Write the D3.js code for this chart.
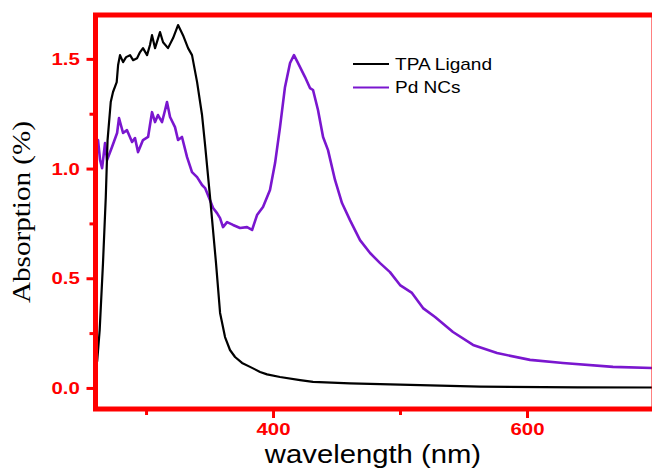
<!DOCTYPE html>
<html>
<head>
<meta charset="utf-8">
<script src="https://cdn.jsdelivr.net/npm/d3@7"></script>
<style>
  body { margin: 0; background: #fff; }
  svg { display: block; }
</style>
</head>
<body>
<div id="chart"></div>
<script>
// wavelength (nm) / absorption
const tpaWave = [261.5, 263.5, 266.1, 268.3, 269.7, 272.2, 274.0, 276.9, 278.0, 279.5, 281.9, 284.3, 287.4,
  289.8, 292.9, 295.3, 297.6, 300.8, 303.1, 304.7, 307.1, 311.0, 313.4, 317.3, 321.3, 325.2, 329.1, 333.1,
  336.2, 340.2, 344.1, 346.5, 350.4, 355.1, 358.3, 362.2, 366.1, 370.1, 375.6, 381.9, 389.8, 395.3, 405.5,
  421.3, 431.5, 460.6, 484.3, 563.0, 640.0, 699.0];
const tpaAbs = [0.12, 0.264, 0.569, 0.870, 1.130, 1.303, 1.349, 1.394, 1.472, 1.517, 1.485, 1.508, 1.517,
  1.494, 1.503, 1.531, 1.549, 1.517, 1.563, 1.608, 1.549, 1.622, 1.576, 1.549, 1.595, 1.654, 1.608, 1.549,
  1.517, 1.394, 1.244, 1.107, 0.870, 0.569, 0.342, 0.232, 0.173, 0.141, 0.114, 0.096, 0.073, 0.062, 0.050,
  0.036, 0.028, 0.021, 0.017, 0.006, 0.003, 0.002];

const pdWave = [260.6, 262.2, 263.8, 265.4, 267.7, 269.3, 273.2, 277.2, 278.7, 281.9, 285.0, 289.0, 291.3,
  293.7, 297.6, 301.6, 304.7, 307.1, 309.4, 312.6, 315.0, 316.5, 318.9, 322.8, 325.2, 328.3, 332.3, 336.2,
  340.2, 344.1, 346.5, 350.4, 352.8, 355.9, 358.3, 360.6, 363.8, 368.5, 374.0, 379.5, 383.5, 387.4, 392.1,
  397.6, 401.6, 405.5, 409.4, 413.4, 416.5, 419.7, 425.2, 429.1, 431.5, 435.4, 439.4, 443.3, 448.8, 454.3,
  460.6, 468.5, 476.4, 484.3, 492.1, 500.0, 509.4, 518.1, 527.6, 541.7, 557.5, 576.4, 602.4, 628.3, 667.7,
  699.0];
const pdAbs = [1.084, 1.130, 1.039, 1.002, 1.116, 1.039, 1.098, 1.162, 1.230, 1.162, 1.175, 1.121, 1.139,
  1.075, 1.130, 1.144, 1.257, 1.212, 1.244, 1.212, 1.267, 1.303, 1.235, 1.189, 1.130, 1.144, 1.052, 0.984,
  0.961, 0.925, 0.911, 0.856, 0.820, 0.797, 0.774, 0.733, 0.756, 0.743, 0.729, 0.733, 0.720, 0.788, 0.825,
  0.902, 1.025, 1.189, 1.371, 1.481, 1.517, 1.481, 1.417, 1.367, 1.358, 1.267, 1.144, 1.084, 0.948, 0.843,
  0.765, 0.674, 0.615, 0.569, 0.528, 0.469, 0.433, 0.364, 0.323, 0.255, 0.196, 0.159, 0.128, 0.114, 0.096,
  0.091];

const seriesNames = ['TPA Ligand', 'Pd NCs'];
const seriesColors = ['#000000', '#7a16cf'];

const yMajor = [0, 0.5, 1.0, 1.5];
const yMinor = [0.25, 0.75, 1.25];
const xMajor = [400, 600];
const xMinor = [300, 500];

const width = 652, height = 470;
const red = '#ff0000';

const svg = d3.select('#chart').append('svg')
  .attr('width', width)
  .attr('height', height);

const x = d3.scaleLinear().domain([260.2, 700]).range([95.5, 654]);
const y = d3.scaleLinear().domain([-0.096, 1.7]).range([409, 15]);

// stretch text a bit wider, like the original picture
function widen(sel, k) {
  sel.each(function () {
    const w = this.getComputedTextLength();
    d3.select(this).attr('textLength', w * k).attr('lengthAdjust', 'spacingAndGlyphs');
  });
}

// minor ticks
svg.append('g')
  .attr('transform', 'translate(' + x.range()[0] + ',0)')
  .call(d3.axisLeft(y).tickValues(yMinor).tickSize(6).tickFormat(''))
  .call(g => g.select('.domain').remove());
svg.append('g')
  .attr('transform', 'translate(0,' + y.range()[0] + ')')
  .call(d3.axisBottom(x).tickValues(xMinor).tickSize(6).tickFormat(''))
  .call(g => g.select('.domain').remove());

// major ticks with labels
const yAxis = svg.append('g')
  .attr('transform', 'translate(' + x.range()[0] + ',0)')
  .call(d3.axisLeft(y).tickValues(yMajor).tickSize(9).tickPadding(5).tickFormat(d3.format('.1f')));
yAxis.select('.domain').remove();

const xAxis = svg.append('g')
  .attr('transform', 'translate(0,' + y.range()[0] + ')')
  .call(d3.axisBottom(x).tickValues(xMajor).tickSize(9).tickPadding(5).tickFormat(d3.format('d')));
xAxis.select('.domain').remove();

svg.selectAll('.tick line').attr('stroke', red).attr('stroke-width', 3);
svg.selectAll('.tick text')
  .attr('fill', red)
  .style('font-family', 'Liberation Sans, Arial, sans-serif')
  .style('font-size', '17px')
  .style('font-weight', 'bold');
yAxis.selectAll('.tick text').attr('dx', '-0.1em');
widen(svg.selectAll('.tick text'), 1.2);

// curves
const line = d3.line().x(d => x(d[0])).y(d => y(d[1]));
const tpa = tpaWave.map((w, i) => [w, tpaAbs[i]]);
const pd = pdWave.map((w, i) => [w, pdAbs[i]]);

svg.append('path')
  .datum(pd)
  .attr('fill', 'none')
  .attr('stroke', seriesColors[1])
  .attr('stroke-width', 2.6)
  .attr('stroke-linejoin', 'round')
  .attr('d', line);

svg.append('path')
  .datum(tpa)
  .attr('fill', 'none')
  .attr('stroke', seriesColors[0])
  .attr('stroke-width', 2.2)
  .attr('stroke-linejoin', 'round')
  .attr('d', line);

// red frame
svg.append('rect')
  .attr('x', x.range()[0])
  .attr('y', y.range()[1])
  .attr('width', x.range()[1] - x.range()[0])
  .attr('height', y.range()[0] - y.range()[1])
  .attr('fill', 'none')
  .attr('stroke', red)
  .attr('stroke-width', 5);

// legend
const legend = svg.append('g').attr('transform', 'translate(353,64)');
seriesNames.forEach((name, i) => {
  const row = legend.append('g').attr('transform', 'translate(0,' + i * 23.5 + ')');
  row.append('line')
    .attr('x1', 0).attr('x2', 36)
    .attr('stroke', seriesColors[i])
    .attr('stroke-width', 2.2);
  row.append('text')
    .attr('x', 42)
    .attr('dy', '0.35em')
    .style('font-family', 'Liberation Sans, Arial, sans-serif')
    .style('font-size', '17px')
    .text(name);
});
widen(legend.selectAll('text'), 1.12);

// axis titles
svg.append('text')
  .attr('x', 373)
  .attr('y', 463)
  .attr('text-anchor', 'middle')
  .style('font-family', 'Liberation Sans, Arial, sans-serif')
  .style('font-size', '25px')
  .text('wavelength (nm)')
  .call(widen, 1.17);

svg.append('text')
  .attr('transform', 'translate(30,212) rotate(-90)')
  .attr('text-anchor', 'middle')
  .style('font-family', 'Liberation Serif, Times New Roman, serif')
  .style('font-size', '26px')
  .text('Absorption (%)')
  .call(widen, 1.12);
</script>
</body>
</html>
